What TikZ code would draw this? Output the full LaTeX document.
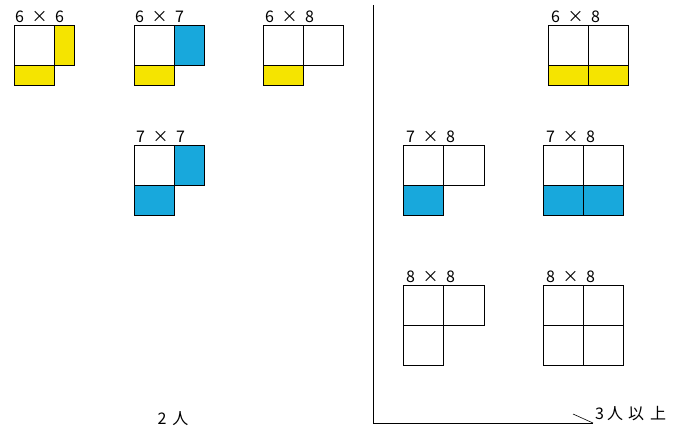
\documentclass[tikz,border=0pt]{standalone}
\usepackage{fontspec}
\setmainfont{Noto Sans CJK JP}
\definecolor{tileyellow}{RGB}{245,228,0}
\definecolor{tileblue}{RGB}{24,168,220}
\newcommand{\prodlabel}[2]{#1\hspace{7.5pt}×\hspace{7.5pt}#2}
\begin{document}
\begin{tikzpicture}[x=1pt,y=-1pt,
  tile/.style={draw=black,line width=0.8pt,anchor=north west,inner sep=0pt,outer sep=0pt},
  sq/.style={tile,minimum width=40pt,minimum height=40pt},
  ybar/.style={tile,fill=tileyellow},
  bbar/.style={tile,fill=tileblue},
  lbl/.style={anchor=base west,inner sep=0pt,font=\fontsize{16}{16}\selectfont},
  note/.style={inner sep=0pt,font=\fontsize{16}{16}\selectfont},
  axis/.style={line width=0.8pt}]
\useasboundingbox (0,0) rectangle (673,430);

% ---- two players: 6x6
\node[lbl] (l66) at (15,23) {\prodlabel{6}{6}};
\node[sq] (a66) at (14,25) {};
\node[ybar,minimum width=20pt,minimum height=40pt] (b66) at (54,25) {};
\node[ybar,minimum width=40pt,minimum height=20pt] (c66) at (14,65) {};

% ---- 6x7
\node[lbl] (l67) at (135,23) {\prodlabel{6}{7}};
\node[sq] (a67) at (134,25) {};
\node[bbar,minimum width=30pt,minimum height=40pt] (b67) at (174,25) {};
\node[ybar,minimum width=40pt,minimum height=20pt] (c67) at (134,65) {};

% ---- 6x8
\node[lbl] (l68) at (265,23) {\prodlabel{6}{8}};
\node[sq] (a68) at (263,25) {};
\node[sq] (b68) at (303,25) {};
\node[ybar,minimum width=40pt,minimum height=20pt] (c68) at (263,65) {};

% ---- 7x7
\node[lbl] (l77) at (136,143) {\prodlabel{7}{7}};
\node[sq] (a77) at (134,145) {};
\node[bbar,minimum width=30pt,minimum height=40pt] (b77) at (174,145) {};
\node[bbar,minimum width=40pt,minimum height=30pt] (c77) at (134,185) {};

% ---- three or more players: 6x8
\node[lbl] (r68) at (551,23) {\prodlabel{6}{8}};
\node[sq] (ra68) at (548,25) {};
\node[sq] (rb68) at (588,25) {};
\node[ybar,minimum width=40pt,minimum height=20pt] (rc68) at (548,65) {};
\node[ybar,minimum width=40pt,minimum height=20pt] (rd68) at (588,65) {};

% ---- 7x8 (one row filled)
\node[lbl] (l78) at (406,143) {\prodlabel{7}{8}};
\node[sq] (a78) at (403,145) {};
\node[sq,minimum width=41pt] (b78) at (443,145) {};
\node[bbar,minimum width=40pt,minimum height=30pt] (c78) at (403,185) {};

% ---- 7x8 (two filled)
\node[lbl] (r78) at (546,143) {\prodlabel{7}{8}};
\node[sq] (ra78) at (543,145) {};
\node[sq] (rb78) at (583,145) {};
\node[bbar,minimum width=40pt,minimum height=30pt] (rc78) at (543,185) {};
\node[bbar,minimum width=40pt,minimum height=30pt] (rd78) at (583,185) {};

% ---- 8x8 (three squares)
\node[lbl] (l88) at (406,283) {\prodlabel{8}{8}};
\node[sq] (a88) at (403,285) {};
\node[sq,minimum width=41pt] (b88) at (443,285) {};
\node[sq] (c88) at (403,325) {};

% ---- 8x8 (four squares)
\node[lbl] (r88) at (546,283) {\prodlabel{8}{8}};
\node[sq] (ra88) at (543,285) {};
\node[sq] (rb88) at (583,285) {};
\node[sq] (rc88) at (543,325) {};
\node[sq] (rd88) at (583,325) {};

% ---- group labels and divider
\node[note] (two) at (173,419) {2\hspace{6pt}人};
\node[note,anchor=west] (three) at (595,414) {3\hspace{3pt}人\hspace{5pt}以\hspace{6pt}上};
\coordinate (top) at (373,5);
\coordinate (corner) at (373,423);
\coordinate (tip) at (593,423);
\coordinate (lead) at (573,414);
\draw[axis] (top) -- (corner) -- (tip);
\draw[line width=0.6pt] (lead) -- (tip);
\end{tikzpicture}
\end{document}
